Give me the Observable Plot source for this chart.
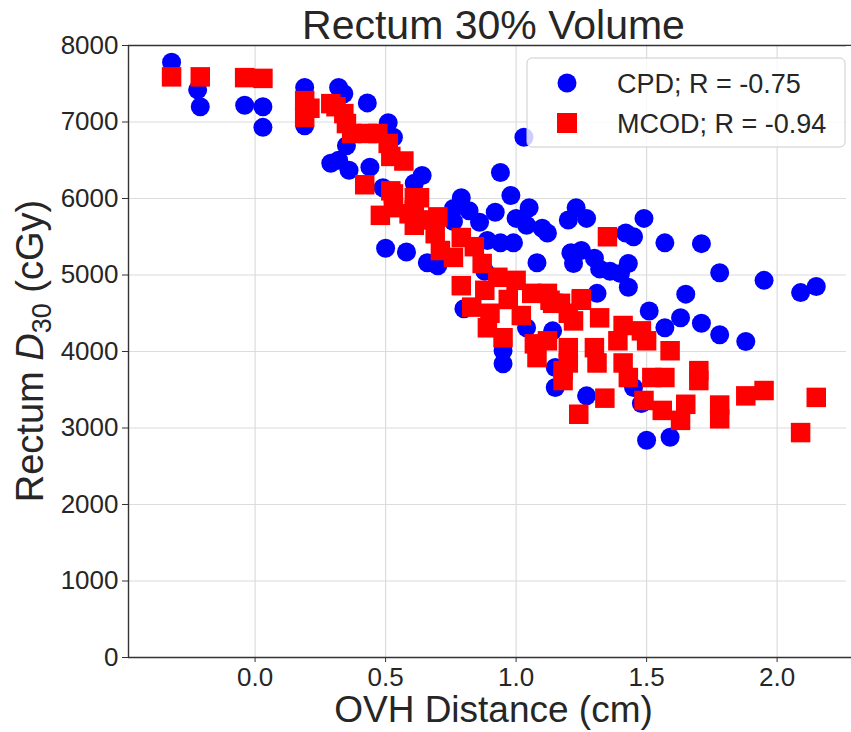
<!DOCTYPE html>
<html>
<head>
<meta charset="utf-8">
<script src="https://cdn.jsdelivr.net/npm/d3@7"></script>
<script src="https://cdn.jsdelivr.net/npm/@observablehq/plot@0.6"></script>
<style>
  html, body { margin: 0; padding: 0; background: #fff; overflow: hidden; }
  #chart svg { display: block; }
</style>
</head>
<body>
<div id="chart"></div>
<script>
// ---- Data ----
const cpdOvh = [-0.32,-0.22,-0.21,-0.04,0.03,0.03,0.19,0.19,0.32,0.34,
  0.43,0.51,0.53,0.35,0.29,0.32,0.36,0.44,0.64,0.49,
  0.61,0.50,0.58,1.03,0.94,0.98,0.79,1.05,0.76,0.82,
  0.92,0.86,0.76,1.00,1.04,1.10,1.12,1.23,1.20,1.27,
  1.42,1.45,1.49,1.57,1.71,0.89,0.94,0.99,0.66,0.70,
  1.08,1.21,1.22,1.25,1.30,1.32,1.36,1.40,1.43,1.43,
  1.31,0.88,0.80,0.95,0.95,1.04,1.15,1.27,1.48,1.50,
  1.59,1.51,1.57,1.63,1.65,1.71,1.78,1.88,1.78,1.95,
  2.09,2.15,1.45,1.15,1.14];
const cpdD30 = [7780,7420,7200,7220,7200,6930,7450,6950,7450,7370,
  7250,6990,6800,6690,6460,6500,6370,6410,6300,6140,
  6200,5350,5300,6800,6340,6040,6010,5880,5870,5840,
  5820,5690,5700,5740,5650,5610,5550,5880,5720,5740,
  5550,5500,5740,5420,5410,5450,5420,5420,5160,5120,
  5160,5290,5150,5320,5220,5080,5050,5020,5150,4840,
  4760,5050,4560,4010,3840,4310,3530,3420,3320,2840,
  2880,4530,4310,4440,4750,4370,4220,4130,5030,4930,
  4770,4850,3530,3790,4270];

const mcodOvh = [-0.32,-0.21,-0.04,0.03,0.19,0.19,0.29,0.34,0.35,0.37,
  0.43,0.51,0.52,0.57,0.42,0.53,0.63,0.48,0.59,0.65,
  0.70,0.53,0.61,0.61,0.69,0.79,0.84,0.71,0.76,0.87,
  0.79,0.93,1.00,0.88,0.83,0.90,0.97,1.06,1.14,0.89,
  0.95,1.07,1.08,1.20,1.20,1.18,1.12,1.17,1.25,1.22,
  1.32,1.41,1.48,1.50,1.30,1.39,1.12,1.59,1.20,1.31,
  1.41,1.18,1.43,1.52,1.57,1.34,1.49,1.24,1.56,1.63,
  1.65,1.70,1.70,1.78,1.78,1.88,1.95,2.09,2.15,1.35,
  0.52,0.61,0.21,0.31,1.02,1.13,1.25,0.47];
const mcodD30 = [7590,7590,7580,7570,7280,7060,7240,7110,6980,6850,
  6850,6720,6550,6490,6180,6060,6010,5780,5800,5720,
  5760,5880,5850,5650,5540,5490,5370,5320,5230,5150,
  4860,4970,4930,4800,4580,4500,4680,4760,4630,4310,
  4180,4100,3920,4500,4050,3750,4760,4630,4690,4400,
  4440,4340,4270,4140,4050,4140,4140,4010,3850,3850,
  3850,3620,3660,3660,3660,3390,3360,3180,3230,3100,
  3310,3750,3620,3300,3120,3420,3490,2940,3400,5500,
  6100,6010,7180,7200,4470,4670,4670,6850];

const xTicks = [0, 0.5, 1.0, 1.5, 2.0];
const yTicks = [0, 1000, 2000, 3000, 4000, 5000, 6000, 7000, 8000];
const xDomain = [-0.485, 2.285];
const yDomain = [0, 8000];

const titleText = "Rectum 30% Volume";
const xLabelText = "OVH Distance (cm)";
const yLabelParts = ["Rectum ", "D", "30", " (cGy)"];
const seriesNames = ["CPD; R = -0.75", "MCOD; R = -0.94"];
const seriesColors = ["#0000ff", "#ff0000"];

(function () {
  const cpd = cpdOvh.map((x, i) => ({x, y: cpdD30[i]}));
  const mcod = mcodOvh.map((x, i) => ({x, y: mcodD30[i]}));

  const FONT = "'Liberation Sans', Arial, Helvetica, sans-serif";
  const TEXT = "#262626";
  const SPINE = "#333333";

  const plot = Plot.plot({
    width: 851,
    height: 732,
    marginLeft: 128,
    marginRight: 0,
    marginTop: 45,
    marginBottom: 75,
    style: {fontFamily: FONT, fontSize: "26px", color: TEXT, background: "#fff"},
    x: {domain: xDomain, ticks: xTicks, label: null},
    y: {domain: yDomain, ticks: yTicks, label: null},
    marks: [
      Plot.gridX(xTicks, {stroke: "#dcdcdc", strokeOpacity: 1, strokeWidth: 1.2}),
      Plot.gridY(yTicks, {stroke: "#dcdcdc", strokeOpacity: 1, strokeWidth: 1.2}),
      Plot.axisX({ticks: xTicks, tickFormat: d3.format(".1f"), tickSize: 5, tickPadding: 5,
                  fontSize: 26, label: null, stroke: SPINE}),
      Plot.axisY({ticks: yTicks, tickFormat: d3.format("d"), tickSize: 6, tickPadding: 4,
                  fontSize: 26, label: null, stroke: SPINE}),
      Plot.dot(cpd, {x: "x", y: "y", r: 9.5, fill: seriesColors[0], stroke: "none"}),
      Plot.dot(mcod, {x: "x", y: "y", r: 11, symbol: "square", fill: seriesColors[1], stroke: "none"}),
      Plot.ruleX([xDomain[0]], {stroke: SPINE, strokeWidth: 1.4}),
      Plot.ruleY(yDomain, {stroke: SPINE, strokeWidth: 1.4})
    ]
  });

  document.getElementById("chart").appendChild(plot);

  const svg = d3.select(plot);
  const xr = plot.scale("x").range;
  const yr = plot.scale("y").range;
  // the reference's axes box extends ~8px beyond the visible right edge
  const cx = (xr[0] + xr[1] + 8) / 2;
  const cy = (yr[0] + yr[1]) / 2;
  const yTop = Math.min(yr[0], yr[1]);
  const yBottom = Math.max(yr[0], yr[1]);
  const xLeft = Math.min(xr[0], xr[1]);
  const xRight = Math.max(xr[0], xr[1]);

  // keep the open right edge of the axes box clean
  svg.append("rect")
    .attr("x", xRight - 5).attr("y", yTop + 1)
    .attr("width", 10).attr("height", yBottom - yTop - 2)
    .attr("fill", "#fff");

  svg.append("text")
    .attr("x", cx).attr("y", yTop - 6)
    .attr("text-anchor", "middle")
    .attr("font-family", FONT).attr("font-size", 41).attr("fill", TEXT)
    .text(titleText);

  svg.append("text")
    .attr("x", cx).attr("y", yBottom + 65)
    .attr("text-anchor", "middle")
    .attr("font-family", FONT).attr("font-size", 37).attr("fill", TEXT)
    .text(xLabelText);

  const yl = svg.append("text")
    .attr("transform", `translate(${xLeft - 85},${cy}) rotate(-90)`)
    .attr("text-anchor", "middle")
    .attr("font-family", FONT).attr("font-size", 38).attr("fill", TEXT);
  yl.append("tspan").text(yLabelParts[0]);
  yl.append("tspan").attr("font-style", "italic").text(yLabelParts[1]);
  yl.append("tspan").attr("font-size", 27).attr("dy", 8).text(yLabelParts[2]);
  yl.append("tspan").attr("dy", -8).text(yLabelParts[3]);

  const lgRight = xRight - 6, lgTop = yTop + 13, lgW = 318, lgH = 89;
  const lg = svg.append("g").attr("text-anchor", "start");
  lg.append("rect")
    .attr("x", lgRight - lgW).attr("y", lgTop).attr("width", lgW).attr("height", lgH)
    .attr("rx", 5).attr("fill", "#fff").attr("fill-opacity", 0.8)
    .attr("stroke", "#cccccc").attr("stroke-width", 1);
  const mx = lgRight - lgW + 40;
  const rowY = [lgTop + 25, lgTop + 65];
  lg.append("circle").attr("cx", mx).attr("cy", rowY[0]).attr("r", 9.5).attr("fill", seriesColors[0]);
  lg.append("rect").attr("x", mx - 10).attr("y", rowY[1] - 10).attr("width", 20).attr("height", 20).attr("fill", seriesColors[1]);
  seriesNames.forEach((name, i) => {
    lg.append("text")
      .attr("x", mx + 50).attr("y", rowY[i] + 10)
      .attr("text-anchor", "start")
      .attr("font-family", FONT).attr("font-size", 27).attr("fill", TEXT)
      .text(name);
  });
})();
</script>
</body>
</html>
